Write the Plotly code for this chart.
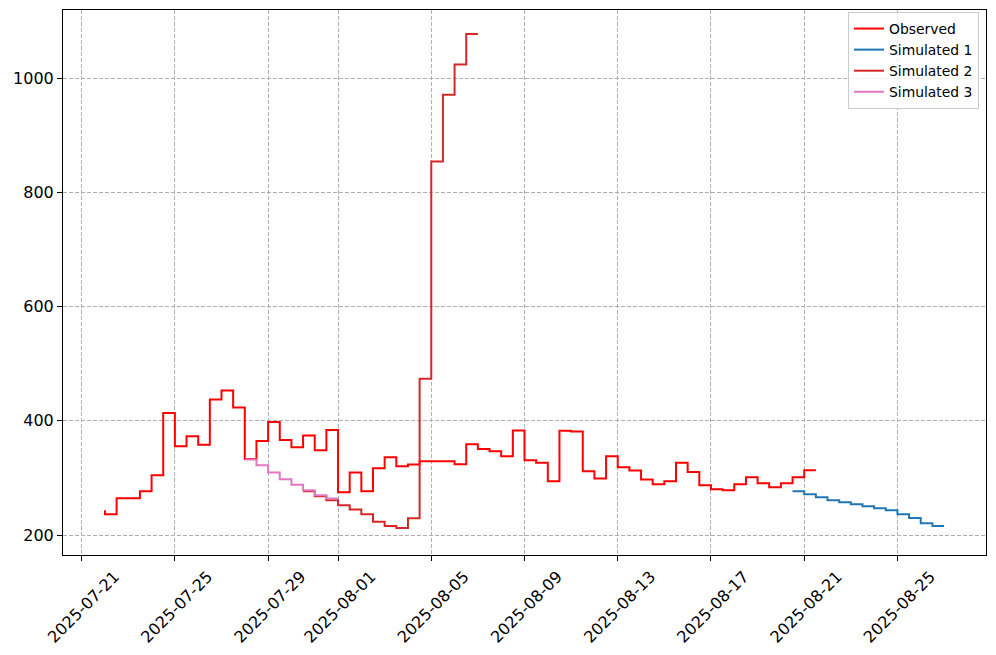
import pandas as pd
import plotly.graph_objects as go

# ---- data (12-hourly step values, 'pre' style steps) ----
obs_start = "2025-07-22 00:00"
observed = [243.6, 236.6, 264.6, 264.6, 276.8, 304.7, 413.6, 355.3, 372.8, 358.3,
            437.3, 453.1, 423.4, 333.3, 364.7, 397.9, 366.5, 353.6, 374.5, 348.3,
            383.9, 275.0, 309.4, 276.8, 316.9, 336.1, 320.4, 323.4, 329.1, 329.1,
            329.1, 323.9, 358.8, 350.8, 346.6, 337.9, 383.2, 330.9, 326.4, 294.2,
            382.7, 381.5, 311.7, 299.0, 337.9, 318.7, 312.9, 297.2, 289.0, 294.2,
            326.4, 310.3, 287.3, 280.3, 278.5, 289.0, 301.2, 290.7, 283.8, 290.7,
            301.2, 313.4]

sim1_start = "2025-08-20 12:00"
simulated_1 = [276.8, 276.8, 271.5, 266.3, 261.0, 257.6, 254.1, 250.6, 247.1, 243.6,
               236.6, 229.7, 220.9, 215.7]

sim2_start = "2025-07-30 12:00"
simulated_2 = [276.8, 276.8, 268.0, 261.0, 252.4, 244.9, 236.6, 223.4, 215.7, 212.5,
               229.5, 473.5, 853.9, 970.8, 1023.7, 1077.3]

sim3_start = "2025-07-28 00:00"
simulated_3 = [332.1, 332.1, 322.2, 309.4, 297.7, 288.0, 278.5, 269.8, 264.0]

tick_dates = ["2025-07-21", "2025-07-25", "2025-07-29", "2025-08-01", "2025-08-05",
              "2025-08-09", "2025-08-13", "2025-08-17", "2025-08-21", "2025-08-25"]
y_ticks = [200, 400, 600, 800, 1000]

series = [
    ("Observed", obs_start, observed, "#ff0000"),
    ("Simulated 1", sim1_start, simulated_1, "#1f77b4"),
    ("Simulated 2", sim2_start, simulated_2, "#d62728"),
    ("Simulated 3", sim3_start, simulated_3, "#e377c2"),
]

fig = go.Figure()
for name, start, vals, color in series:
    x = pd.date_range(start=start, periods=len(vals), freq="12h")
    fig.add_trace(go.Scatter(
        x=x, y=vals, mode="lines", name=name,
        line=dict(color=color, width=2, shape="vh"),
    ))

axis_common = dict(
    showline=True, mirror=True, linecolor="black", linewidth=1.1,
    ticks="outside", ticklen=5, tickwidth=1.1, tickcolor="black",
    showgrid=True, gridcolor="#b0b0b0", gridwidth=0.8, griddash="4px,2px",
    zeroline=False,
    tickfont=dict(family="DejaVu Sans", size=16, color="black"),
)

fig.update_xaxes(
    type="date",
    range=["2025-07-20 04:48", "2025-08-28 19:12"],
    tickvals=tick_dates, ticktext=tick_dates, tickangle=-45,
    ticklabelshift=33,
    **axis_common,
)
fig.update_yaxes(
    range=[165.1, 1119.2],
    tickvals=y_ticks,
    **axis_common,
)

fig.update_layout(
    width=996, height=655,
    margin=dict(l=63, r=9, t=10, b=98),
    plot_bgcolor="white", paper_bgcolor="white",
    font=dict(family="DejaVu Sans", color="black"),
    legend=dict(
        x=0.9924, y=0.9963, xanchor="right", yanchor="top",
        bgcolor="rgba(255,255,255,0.8)", bordercolor="#cccccc", borderwidth=1,
        font=dict(family="DejaVu Sans", size=13.9, color="black"),
        tracegroupgap=0,
    ),
    showlegend=True,
)

fig.write_html("out.html")
